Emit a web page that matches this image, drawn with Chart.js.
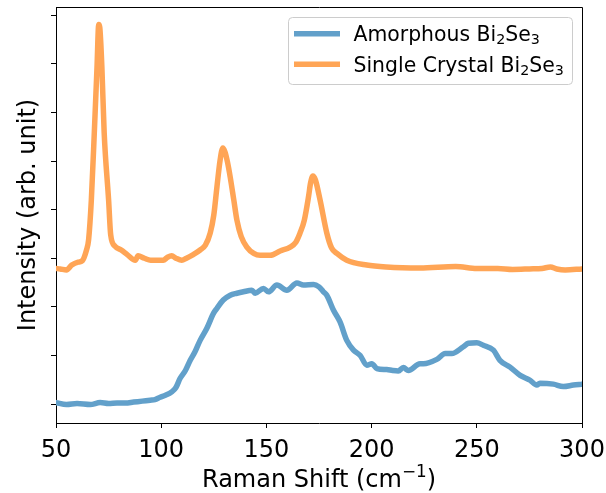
<!DOCTYPE html>
<html>
<head>
<meta charset="utf-8">
<script src="https://cdn.jsdelivr.net/npm/chart.js@4.4.0/dist/chart.umd.min.js"></script>
<style>
    body { margin: 0; background: #fff; }
    canvas { display: block; }
</style>
</head>
<body>
<canvas id="grafico-raman" width="606" height="493"></canvas>
<script>
// Espectro Raman - monocristal (deslocado para cima)
const cristalX = [50, 52, 55, 57.5, 60.5, 62.5, 64.5, 65.5, 66.8, 68.2, 69.5, 70.3, 70.8, 71.8, 72.9, 75, 76, 78, 81, 84,
    87.7, 89, 92, 95, 98, 101, 103, 105, 107, 109.8, 112, 115, 118.5, 121, 123.3, 125, 126.5, 128, 129.3, 130.3,
    131.5, 132.8, 134.5, 136, 138, 140.7, 144, 147, 151.8, 156.5, 161.3, 164, 166, 168, 170, 171, 172.1, 173.3, 175.5, 178.7,
    181, 183.5, 188.2, 197.7, 207, 223, 240, 250, 260, 267, 275, 281, 285, 288, 292, 300];
const cristalY = [2.79, 2.78, 2.76, 2.86, 2.92, 2.95, 3.17, 3.38, 4.20, 5.58, 6.94, 7.81, 7.75, 6.94, 5.58, 4.20, 3.48, 3.25, 3.17, 3.07,
    2.96, 3.05, 3.00, 2.96, 2.96, 2.96, 3.02, 3.05, 3.00, 2.96, 3.00, 3.07, 3.17, 3.27, 3.52, 3.89, 4.47, 5.02, 5.27, 5.19,
    4.98, 4.67, 4.20, 3.78, 3.45, 3.23, 3.10, 3.06, 3.06, 3.15, 3.23, 3.33, 3.52, 3.78, 4.26, 4.55, 4.69, 4.61, 4.20, 3.52,
    3.21, 3.10, 2.96, 2.86, 2.82, 2.80, 2.83, 2.79, 2.79, 2.77, 2.78, 2.79, 2.82, 2.78, 2.76, 2.78];

// Espectro Raman - amostra amorfa
const amorfoX = [50, 55, 60, 66.3, 71, 75, 79, 83, 86.9, 91, 94.8, 97, 99.5, 102, 105, 107, 109, 111.5, 113.8, 116,
    118.5, 121.7, 124.9, 126.5, 129.5, 132.8, 136, 139.1, 143.1, 144.7, 148.6, 151, 155, 159.7, 164.5, 167.6, 172.4, 175, 177.1, 178.7,
    181.9, 185, 188.2, 191.4, 194.6, 197.7, 200.1, 202.5, 207.2, 210, 212.7, 215.1, 217.5, 223, 224.6, 231, 235, 238.1, 243.6, 246,
    250, 253.1, 257.9, 261, 265.8, 270.6, 275.3, 278.5, 280, 286.4, 291.1, 295.9, 300];
const amorfoY = [0.03, -0.01, 0.01, -0.01, 0.03, 0.01, 0.02, 0.02, 0.04, 0.06, 0.08, 0.09, 0.14, 0.18, 0.25, 0.34, 0.53, 0.69, 0.90, 1.07,
    1.31, 1.56, 1.87, 1.97, 2.14, 2.24, 2.28, 2.31, 2.34, 2.28, 2.38, 2.31, 2.45, 2.34, 2.49, 2.45, 2.46, 2.41, 2.31, 2.24,
    1.93, 1.69, 1.31, 1.11, 1.00, 0.80, 0.83, 0.73, 0.71, 0.69, 0.68, 0.75, 0.69, 0.83, 0.83, 0.92, 1.04, 1.04, 1.18, 1.25,
    1.26, 1.21, 1.11, 0.90, 0.76, 0.59, 0.49, 0.39, 0.43, 0.41, 0.36, 0.39, 0.41];

const ticksX = [50, 100, 150, 200, 250, 300];
const ticksY = [0, 1, 2, 3, 4, 5, 6, 7, 8];

// Rótulos da legenda: trechos normais e índices (subscrito)
const rotuloAmorfo = [['Amorphous Bi', 0], ['2', 1], ['Se', 0], ['3', 1]];
const rotuloCristal = [['Single Crystal Bi', 0], ['2', 1], ['Se', 0], ['3', 1]];

const corAzul = '#62a0ca';
const corLaranja = '#ffa556';
const fonte = 'DejaVu Sans';

function pontos(xs, ys) {
    return xs.map((x, i) => ({ x: x, y: ys[i] }));
}

// Escreve texto com trechos subscritos/sobrescritos
function escreverPartes(ctx, partes, x, y, tamanho) {
    let cx = x;
    partes.forEach(function (p) {
        const menor = p[1] !== 0;
        ctx.font = (menor ? tamanho * 0.7 : tamanho) + 'px "' + fonte + '"';
        const dy = p[1] === 1 ? tamanho * 0.15 : (p[1] === -1 ? -tamanho * 0.4 : 0);
        ctx.fillText(p[0], cx, y + dy);
        cx += ctx.measureText(p[0]).width;
    });
    return cx - x;
}

function larguraPartes(ctx, partes, tamanho) {
    let w = 0;
    partes.forEach(function (p) {
        ctx.font = (p[1] !== 0 ? tamanho * 0.7 : tamanho) + 'px "' + fonte + '"';
        w += ctx.measureText(p[0]).width;
    });
    return w;
}

const pluginMoldura = {
    id: 'moldura',
    afterDraw(chart) {
        const ctx = chart.ctx;
        const a = chart.chartArea;
        ctx.save();

        // Bordas superior e direita
        ctx.strokeStyle = '#000';
        ctx.lineWidth = 1;
        ctx.beginPath();
        ctx.moveTo(Math.round(a.left) + 0.5, Math.round(a.top) + 0.5);
        ctx.lineTo(Math.round(a.right) + 0.5, Math.round(a.top) + 0.5);
        ctx.lineTo(Math.round(a.right) + 0.5, Math.round(a.bottom) + 0.5);
        ctx.stroke();

        // Títulos dos eixos
        ctx.fillStyle = '#000';
        ctx.textBaseline = 'alphabetic';
        const tituloX = [['Raman Shift (cm', 0], ['\u22121', -1], [')', 0]];
        const wx = larguraPartes(ctx, tituloX, 24);
        escreverPartes(ctx, tituloX, (a.left + a.right) / 2 - wx / 2, 486.5, 24);

        ctx.save();
        ctx.translate(34.5, (a.top + a.bottom) / 2);
        ctx.rotate(-Math.PI / 2);
        ctx.font = '24px "' + fonte + '"';
        ctx.textAlign = 'center';
        ctx.fillText('Intensity (arb. unit)', 0, 0);
        ctx.restore();

        // Legenda
        const bx = 288.5, by = 17.5, bw = 284, bh = 67, r = 4;
        ctx.beginPath();
        ctx.moveTo(bx + r, by);
        ctx.arcTo(bx + bw, by, bx + bw, by + bh, r);
        ctx.arcTo(bx + bw, by + bh, bx, by + bh, r);
        ctx.arcTo(bx, by + bh, bx, by, r);
        ctx.arcTo(bx, by, bx + bw, by, r);
        ctx.closePath();
        ctx.fillStyle = 'rgba(255,255,255,0.8)';
        ctx.fill();
        ctx.strokeStyle = '#cccccc';
        ctx.stroke();

        const itens = [[rotuloAmorfo, corAzul, 33.7], [rotuloCristal, corLaranja, 64.3]];
        itens.forEach(function (item) {
            ctx.strokeStyle = item[1];
            ctx.lineWidth = 5.5;
            ctx.lineCap = 'butt';
            ctx.beginPath();
            ctx.moveTo(294, item[2]);
            ctx.lineTo(340, item[2]);
            ctx.stroke();
            ctx.fillStyle = '#000';
            escreverPartes(ctx, item[0], 353.5, item[2] + 7.3, 20.4);
        });

        ctx.restore();
    }
};

const eixoComum = {
    grid: { display: true, drawOnChartArea: false, drawTicks: true, tickLength: 5, color: '#000', lineWidth: 1 },
    border: { display: true, color: '#000', width: 1 },
};

const config = {
    type: 'line',
    data: {
        datasets: [{
            label: 'Amorphous Bi2Se3',
            data: pontos(amorfoX, amorfoY),
            borderColor: corAzul,
            borderWidth: 5.5,
            pointRadius: 0,
            cubicInterpolationMode: 'monotone',
            borderJoinStyle: 'round',
            borderCapStyle: 'round',
            fill: false
        }, {
            label: 'Single Crystal Bi2Se3',
            data: pontos(cristalX, cristalY),
            borderColor: corLaranja,
            borderWidth: 5.5,
            pointRadius: 0,
            cubicInterpolationMode: 'monotone',
            borderJoinStyle: 'round',
            borderCapStyle: 'round',
            fill: false
        }]
    },
    options: {
        responsive: false,
        animation: false,
        layout: { padding: { top: 7, right: 24, left: 0, bottom: 0 } },
        plugins: { legend: { display: false }, tooltip: { enabled: false } },
        scales: {
            x: Object.assign({
                type: 'linear',
                min: 50,
                max: 300,
                afterBuildTicks: function (s) { s.ticks = ticksX.map(v => ({ value: v })); },
                afterFit: function (s) { s.height = 70; s.paddingRight = 0; s.paddingLeft = 0; },
                ticks: { font: { family: fonte, size: 24 }, color: '#000', padding: 8, autoSkip: false, maxRotation: 0 }
            }, eixoComum),
            y: Object.assign({
                type: 'linear',
                min: -0.39,
                max: 8.17,
                afterBuildTicks: function (s) { s.ticks = ticksY.map(v => ({ value: v })); },
                afterFit: function (s) { s.width = 56; },
                ticks: { display: false }
            }, eixoComum)
        }
    },
    plugins: [pluginMoldura]
};

let grafico = new Chart(document.getElementById('grafico-raman'), config);
</script>
</body>
</html>
